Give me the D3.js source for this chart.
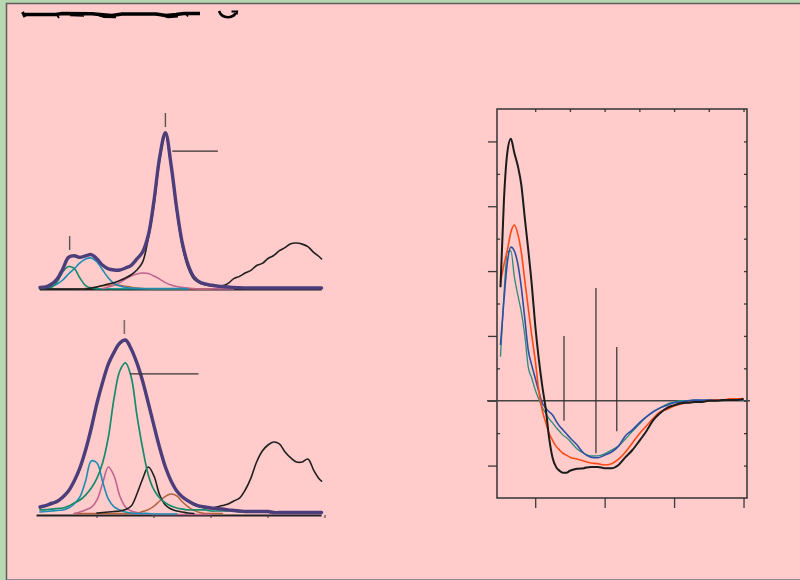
<!DOCTYPE html>
<html>
<head>
<meta charset="utf-8">
<script src="https://cdn.jsdelivr.net/npm/d3@7"></script>
<style>
  html, body { margin: 0; padding: 0; background: #b7d8b1; }
  svg { display: block; }
</style>
</head>
<body>
<svg id="chart" width="800" height="580"></svg>
<script>
// ---------- Band decomposition panels: shared wavelength grid (nm) ----------
const specGrid = [200,205,210,215,220,225,230,235,240,245,250,255,260,265,270,275,280,285,290,295,
                  300,305,310,315,320,325,330,335,340,345,350,355,360,365,370,375,380,385,390,395,
                  400,405,410,415,420,425,430,435,440,445,447];

// Upper spectrum (normalised intensity); null = band not drawn there
const topFit = [0.010,0.013,0.030,0.063,0.127,0.200,0.210,0.200,0.210,0.218,
                0.190,0.150,0.127,0.120,0.120,0.133,0.150,0.190,0.234,0.340,
                0.560,0.835,0.990,0.785,0.506,0.285,0.152,0.076,0.044,0.032,
                0.025,0.019,0.016,0.013,0.010,0.008,0.007,0.006,0.006,0.006,
                0.006,0.006,0.006,0.006,0.006,0.006,0.006,0.006,0.006,0.006,0.006];
const topRaw = [0,0,0,0,0,0,0,0,0,0.006,
                0.013,0.022,0.032,0.040,0.054,0.070,0.090,0.120,0.170,0.320,
                0.530,0.816,0.975,0.770,0.487,0.266,0.133,0.063,0.038,0.025,
                0.019,0.019,0.021,0.036,0.066,0.080,0.101,0.118,0.149,0.162,
                0.193,0.212,0.243,0.262,0.287,0.291,0.284,0.268,0.232,0.204,0.190];
const topGreen = [0,0,0.010,0.044,0.108,0.142,0.130,0.070,0.022,0.006,
                  0,null,null,null,null,null,null,null,null,null,
                  null,null,null,null,null,null,null,null,null,null,
                  null,null,null,null,null,null,null,null,null,null,
                  null,null,null,null,null,null,null,null,null,null,null];
const topBlue = [0,0.003,0.016,0.032,0.057,0.095,0.127,0.165,0.190,0.196,
                 0.171,0.120,0.070,0.035,0.019,0.010,0.006,0.003,0.003,0.003,
                 0.003,0.003,0.003,0.003,0.003,0.003,0,null,null,null,
                 null,null,null,null,null,null,null,null,null,null,
                 null,null,null,null,null,null,null,null,null,null,null];
const topPink = [null,null,null,null,null,null,null,null,null,null,
                 null,0.003,0.013,0.025,0.040,0.063,0.082,0.095,0.101,0.098,
                 0.082,0.063,0.040,0.025,0.016,0.010,0.006,0.003,0,0,
                 0,0,0,0,0,null,null,null,null,null,
                 null,null,null,null,null,null,null,null,null,null,null];
const topBrown = [null,null,null,null,null,null,null,0,0.004,0.008,
                  0.014,0.020,0.024,0.026,0.024,0.018,0.012,0.007,0.003,0,
                  0,0,0,0,0,0,0,0,0,0,
                  0,null,null,null,null,null,null,null,null,null,
                  null,null,null,null,null,null,null,null,null,null,null];
const topTeal = [null,null,null,null,null,null,null,null,null,null,
                 0.002,0.002,0.002,0.002,0.002,0.002,0.002,0.002,0.002,0.002,
                 0.002,0.002,0.002,0.002,0.002,0.002,0.002,null,null,null,
                 null,null,null,null,null,null,null,null,null,null,
                 null,null,null,null,null,null,null,null,null,null,null];

// Lower spectrum
const botFit = [0.046,0.054,0.066,0.077,0.103,0.137,0.194,0.269,0.371,0.497,
                0.640,0.760,0.863,0.931,0.983,1.000,0.949,0.869,0.766,0.640,
                0.509,0.383,0.274,0.194,0.137,0.103,0.080,0.063,0.051,0.046,
                0.040,0.037,0.034,0.029,0.026,0.023,0.020,0.020,0.020,0.020,
                0.020,0.014,0.014,0.014,0.014,0.014,0.014,0.014,0.014,0.014,0.014];
const botRaw = [0.040,0.055,0.060,0.083,0.098,0.135,0.190,0.262,0.365,0.490,
                0.635,0.755,0.858,0.926,0.978,0.995,0.944,0.864,0.761,0.635,
                0.504,0.378,0.270,0.190,0.134,0.100,0.078,0.057,0.046,0.040,
                0.037,0.046,0.054,0.063,0.080,0.097,0.143,0.211,0.303,0.366,
                0.400,0.417,0.406,0.360,0.326,0.303,0.303,0.320,0.257,0.206,0.194];
const botGreen = [0.029,0.031,0.034,0.037,0.040,0.051,0.069,0.086,0.114,0.154,
                  0.211,0.300,0.446,0.669,0.823,0.869,0.789,0.571,0.383,0.229,
                  0.143,0.097,0.069,0.051,0.040,0.034,0.029,0.029,0.029,0.029,
                  0.023,0.023,0.023,0.023,0.023,0.017,0.017,0.017,0.017,0.017,
                  0.017,0.011,0.011,0.011,0.011,0.011,0.011,0.011,0.011,0.011,0.011];
const botBlue = [0.017,0.020,0.023,0.026,0.029,0.040,0.063,0.103,0.194,0.309,
                 0.297,0.189,0.091,0.046,0.029,0.017,0.011,0.009,0.009,0.009,
                 0.006,0.006,0.006,0.006,0.006,null,null,null,null,null,
                 null,null,null,null,null,null,null,null,null,null,
                 null,null,null,null,null,null,null,null,null,null,null];
const botPink = [null,null,null,null,null,null,0.009,0.017,0.029,0.043,
                 0.086,0.183,0.274,0.223,0.109,0.046,0.023,0.014,0.009,0.006,
                 0.003,0.003,0.003,0.003,0.003,0.003,0.003,0.003,0.003,0.003,
                 0.003,null,null,null,null,null,null,null,null,null,
                 null,null,null,null,null,null,null,null,null,null,null];
const botBlackBand = [null,null,null,null,null,null,null,null,null,null,
                      0.011,0.014,0.017,0.020,0.023,0.031,0.051,0.120,0.206,0.274,
                      0.223,0.114,0.057,0.034,0.023,0.017,0.011,0.009,null,null,
                      null,null,null,null,null,null,null,null,null,null,
                      null,null,null,null,null,null,null,null,null,null,null];
const botBrown = [null,null,null,null,null,null,0.009,0.009,0.009,0.009,
                  0.009,0.009,0.009,0.009,0.009,0.009,0.009,0.009,0.020,0.031,
                  0.051,0.080,0.106,0.120,0.109,0.074,0.046,0.026,0.014,0.009,
                  0.009,0.009,0.009,null,null,null,null,null,null,null,
                  null,null,null,null,null,null,null,null,null,null,null];

// Peak markers and leader lines, in data units: [nm, from, to] / [nmFrom, nmTo, level]
const topPeakMarks = [[310, 1.025, 1.114], [226, 0.247, 0.335]];
const topLeader = [316, 356, 0.873];
const botPeakMarks = [[274, 1.034, 1.114]];
const botLeader = [279, 339, 0.806];
const specTicks = [250, 300, 350, 400, 450];

// ---------- CD spectra (wavelength nm, ellipticity) ----------
const cdWave = [190,191,192,193,194,195,196,197,198,199,200,201,202,203,204,205,206,207,208,209,210,
                212,214,216,218,220,222,224,226,228,230,232,234,236,238,240,
                242,244,246,248,250,252,254,256,258,260];
const cdBlack = [17.5,31.0,38.4,40.4,38.2,36.2,33.3,28.2,23.3,18.0,11.7,6.6,2.4,-1.1,-5.7,-8.8,-10.2,-10.8,-11.1,-11.1,-10.8,
                 -10.5,-10.4,-10.2,-10.2,-10.4,-10.4,-9.9,-8.7,-7.6,-6.2,-4.7,-3.0,-1.9,-1.1,-0.7,
                 -0.4,-0.3,-0.2,-0.2,0.0,0.0,0.1,0.1,0.1,0.3];
const cdOrange = [18.2,21.0,23.3,26.0,27.1,25.7,22.9,18.6,14.3,10.1,6.3,1.7,-1.4,-3.3,-5.0,-6.1,-7.0,-7.6,-8.1,-8.4,-8.7,
                  -9.0,-9.3,-9.6,-9.7,-9.9,-9.7,-9.0,-7.9,-6.5,-5.1,-3.9,-2.7,-1.7,-1.3,-0.8,
                  -0.5,-0.3,-0.2,-0.2,0.0,0.1,0.1,0.3,0.3,0.3];
const cdBlue = [8.6,15.5,21.4,23.7,23.1,21.1,17.5,12.7,7.8,5.5,3.5,1.5,-0.3,-1.1,-1.7,-2.2,-3.1,-3.9,-4.5,-5.1,-5.7,
                -6.8,-8.1,-8.7,-8.8,-8.4,-7.9,-7.0,-5.4,-4.5,-3.4,-2.5,-1.7,-1.1,-0.7,-0.3,
                -0.2,0.0,0.1,0.1,0.1,0.1,0.1,0.2,0.2,0.2];
const cdTeal = [6.8,16.3,23.0,23.1,19.1,16.3,13.7,10.1,5.2,3.5,1.7,0.3,-1.0,-1.9,-2.8,-3.4,-4.1,-4.7,-5.3,-5.7,-6.2,
                -7.4,-8.1,-8.5,-8.5,-8.2,-7.6,-7.0,-5.9,-4.7,-3.6,-2.5,-1.7,-1.1,-0.5,-0.2,
                0.0,0.0,0.1,0.0,0.1,0.1,0.0,0.1,0.1,0.1];
const cdMarkWave = [208.3, 217.5, 223.5];
const cdMarkTop = [10.0, 17.4, 8.3];
const cdMarkBottom = [-3.1, -8.1, -4.7];
const cdXTicks = [200, 220, 240, 260];
const cdXMinor = [200, 210, 220, 230, 240, 250, 260];
const cdYTicks = [-10, 0, 10, 20, 30, 40];
const cdYMinor = [-5, 5, 15, 25, 35];

// ---------- page frame ----------
const svg = d3.select("#chart");
svg.append("rect").attr("width", 800).attr("height", 580).attr("fill", "#b7d8b1");
svg.append("rect").attr("x", 7).attr("y", 4).attr("width", 793).attr("height", 575).attr("fill", "#ffcbcb");
svg.append("path").attr("d", "M6.5,580V3.5H800").attr("fill", "none")
   .attr("stroke", "#5c5c5c").attr("stroke-width", 1.5);
svg.append("line").attr("x1", 7).attr("x2", 800).attr("y1", 579.5).attr("y2", 579.5)
   .attr("stroke", "#8c8c8c").attr("stroke-width", 1);

// heading stroke (unreadable heading rendered as ink)
const ink = svg.append("g").attr("fill", "none").attr("stroke", "#000").attr("stroke-linecap", "butt");
ink.append("path").attr("d", "M23,14.5 L56,14.5 L62,13.5 L92,13.8 L100,14.5 L112,15.5 L122,14 L156,14 L166,15.5 L176,14.5 L184,13.5 L200,13.5")
   .attr("stroke-width", 3.4);
ink.append("path").attr("d", "M22.5,12 L25,17").attr("stroke-width", 3);
ink.append("path").attr("d", "M57,15 L59,18").attr("stroke-width", 1.8);
ink.append("path").attr("d", "M95,14 L104,17 L116,17.2").attr("stroke-width", 2.2);
ink.append("path").attr("d", "M70,15.5 L84,16").attr("stroke-width", 1.5);
ink.append("path").attr("d", "M158,14 L168,17.2 L178,16.5").attr("stroke-width", 2.2);
ink.append("path").attr("d", "M186,14 L188,16.5").attr("stroke-width", 1.6);
ink.append("path").attr("d", "M219,11 Q221.5,17.5 228.5,17.2 Q234,16.8 235.5,13").attr("stroke-width", 2.6);
ink.append("path").attr("d", "M231.5,11.5 L237,11.5 L236.5,14.5").attr("stroke-width", 2.2);

// ---------- decomposition panels ----------
const xs = d3.scaleLinear().domain([200, 450]).range([40, 325]);
const yTop = d3.scaleLinear().domain([0, 1]).range([289, 131]);
const yBot = d3.scaleLinear().domain([0, 1]).range([515, 340]);

function drawSeries(g, yScale, values, color, width) {
  const pts = specGrid.map((nm, i) => [nm, values[i]]);
  const line = d3.line()
    .defined(d => d[1] !== null && d[1] !== undefined)
    .x(d => xs(d[0])).y(d => yScale(d[1]))
    .curve(d3.curveCatmullRom.alpha(0.5));
  g.append("path").attr("d", line(pts)).attr("fill", "none")
    .attr("stroke", color).attr("stroke-width", width)
    .attr("stroke-linejoin", "round").attr("stroke-linecap", "round");
}

const colors = {
  fit: "#4b3e7b", raw: "#1f1f1f", green: "#168a6b", blue: "#1b8db5",
  pink: "#c0638f", brown: "#b4613c", teal: "#1a9a8f"
};

// upper panel
const gTop = svg.append("g");
gTop.append("line").attr("x1", xs(200)).attr("x2", xs(447)).attr("y1", yTop(0) + 0.5).attr("y2", yTop(0) + 0.5)
    .attr("stroke", "#222").attr("stroke-width", 2);
drawSeries(gTop, yTop, topBrown, colors.brown, 1.4);
drawSeries(gTop, yTop, topTeal, colors.teal, 1.4);
drawSeries(gTop, yTop, topPink, colors.pink, 1.5);
drawSeries(gTop, yTop, topBlue, colors.blue, 1.6);
drawSeries(gTop, yTop, topGreen, colors.green, 1.6);
drawSeries(gTop, yTop, topRaw, colors.raw, 1.6);
drawSeries(gTop, yTop, topFit, colors.fit, 3.4);
topPeakMarks.forEach(m => {
  gTop.append("line").attr("x1", xs(m[0])).attr("x2", xs(m[0]))
      .attr("y1", yTop(m[1])).attr("y2", yTop(m[2]))
      .attr("stroke", "#555").attr("stroke-width", 1.4);
});
gTop.append("line").attr("x1", xs(topLeader[0])).attr("x2", xs(topLeader[1]))
    .attr("y1", yTop(topLeader[2])).attr("y2", yTop(topLeader[2]))
    .attr("stroke", "#333").attr("stroke-width", 1.2);

// lower panel
const gBot = svg.append("g");
gBot.append("line").attr("x1", xs(197)).attr("x2", xs(447)).attr("y1", yBot(0) + 0.5).attr("y2", yBot(0) + 0.5)
    .attr("stroke", "#222").attr("stroke-width", 2);
gBot.selectAll(".stick").data(specTicks).join("line")
    .attr("x1", d => xs(d)).attr("x2", d => xs(d))
    .attr("y1", yBot(0)).attr("y2", yBot(0) + 3)
    .attr("stroke", "#333").attr("stroke-width", 1);
drawSeries(gBot, yBot, botBrown, colors.brown, 1.5);
drawSeries(gBot, yBot, botPink, colors.pink, 1.6);
drawSeries(gBot, yBot, botBlue, colors.blue, 1.6);
drawSeries(gBot, yBot, botBlackBand, colors.raw, 1.6);
drawSeries(gBot, yBot, botGreen, colors.green, 1.7);
drawSeries(gBot, yBot, botRaw, colors.raw, 1.6);
drawSeries(gBot, yBot, botFit, colors.fit, 3.4);
botPeakMarks.forEach(m => {
  gBot.append("line").attr("x1", xs(m[0])).attr("x2", xs(m[0]))
      .attr("y1", yBot(m[1])).attr("y2", yBot(m[2]))
      .attr("stroke", "#7a6a6a").attr("stroke-width", 1.6);
});
gBot.append("line").attr("x1", xs(botLeader[0])).attr("x2", xs(botLeader[1]))
    .attr("y1", yBot(botLeader[2])).attr("y2", yBot(botLeader[2]))
    .attr("stroke", "#333").attr("stroke-width", 1.2);

// ---------- CD panel ----------
const cx = d3.scaleLinear().domain([189, 261]).range([497, 747]);
const cy = d3.scaleLinear().domain([-15, 45]).range([498, 109]);
const gCD = svg.append("g");
const tickStyle = g => {
  g.select(".domain").remove();
  g.selectAll(".tick line").attr("stroke", "#3a3a3a").attr("stroke-width", 1.3);
  g.selectAll(".tick text").remove();
};

gCD.append("g").attr("transform", `translate(0,${cy(-15)})`)
   .call(d3.axisBottom(cx).tickValues(cdXTicks).tickSize(10).tickFormat("")).call(tickStyle);
gCD.append("g").attr("transform", `translate(0,${cy(45)})`)
   .call(d3.axisTop(cx).tickValues(cdXMinor).tickSize(-3).tickFormat("")).call(tickStyle);
gCD.append("g").attr("transform", `translate(${cx(189)},0)`)
   .call(d3.axisLeft(cy).tickValues(cdYTicks).tickSize(9).tickFormat("")).call(tickStyle);
gCD.append("g").attr("transform", `translate(${cx(189)},0)`)
   .call(d3.axisLeft(cy).tickValues(cdYMinor).tickSize(-3).tickFormat("")).call(tickStyle);
gCD.append("g").attr("transform", `translate(${cx(261)},0)`)
   .call(d3.axisRight(cy).tickValues(cdYTicks.concat(cdYMinor)).tickSize(-3).tickFormat("")).call(tickStyle);

gCD.append("rect").attr("x", cx(189)).attr("y", cy(45))
   .attr("width", cx(261) - cx(189)).attr("height", cy(-15) - cy(45))
   .attr("fill", "none").attr("stroke", "#333").attr("stroke-width", 1.5);

// zero line
gCD.append("line").attr("x1", cx(189) - 10).attr("x2", cx(261) + 3)
   .attr("y1", cy(0)).attr("y2", cy(0))
   .attr("stroke", "#444").attr("stroke-width", 1.3);

// band position markers
cdMarkWave.forEach((w, i) => {
  gCD.append("line").attr("x1", cx(w)).attr("x2", cx(w))
     .attr("y1", cy(cdMarkTop[i])).attr("y2", cy(cdMarkBottom[i]))
     .attr("stroke", "#2e2e2e").attr("stroke-width", 1.2);
});

const cdLine = d3.line().x((d, i) => cx(cdWave[i])).y(d => cy(d)).curve(d3.curveMonotoneX);
[[cdTeal, "#2d8a79", 1.3], [cdBlue, "#2b4fa6", 1.6], [cdOrange, "#ff4a14", 1.6], [cdBlack, "#1b1b1b", 2.0]]
  .forEach(([vals, col, w]) => {
    gCD.append("path").attr("d", cdLine(vals)).attr("fill", "none")
       .attr("stroke", col).attr("stroke-width", w).attr("stroke-linejoin", "round");
  });
</script>
</body>
</html>
